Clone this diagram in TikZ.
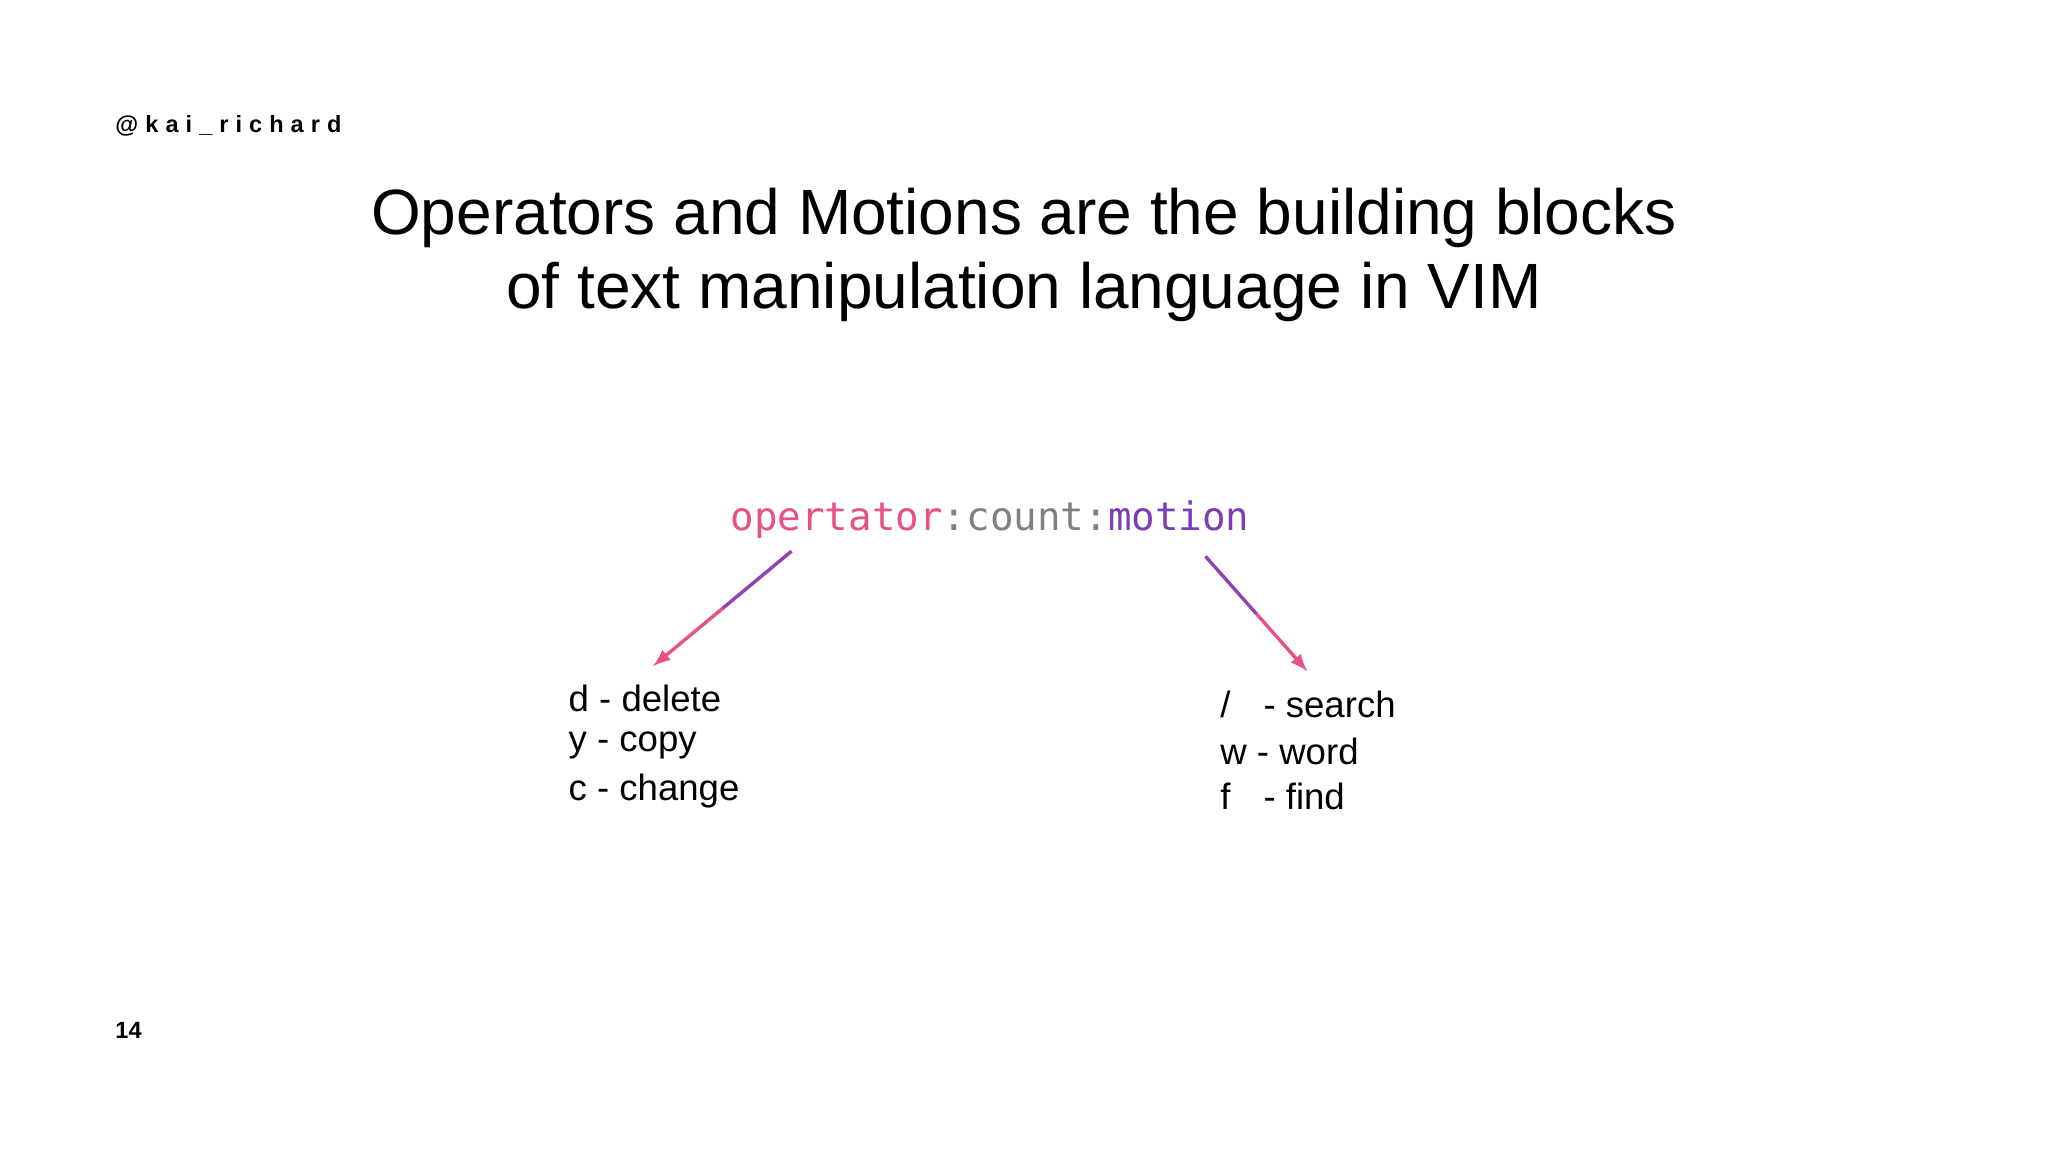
\documentclass[tikz,border=0pt]{standalone}
\usepackage{fontspec}
\setmainfont{Liberation Sans}
\newfontfamily\codefont{DejaVu Sans Mono}
\newfontfamily\spacedfont[LetterSpace=30]{Liberation Sans}
\definecolor{vpink}{HTML}{E8508A}
\definecolor{vgray}{HTML}{808080}
\definecolor{vpurple}{HTML}{7B3FB5}
\begin{document}
\begin{tikzpicture}[x=0.5pt,y=-0.5pt,
  lst/.style={anchor=west,inner sep=0pt,font=\fontsize{14}{16}\selectfont},
  arr/.style={line width=1.3pt,-{latex}}]
\useasboundingbox (0,0) rectangle (1568,882);
\node[anchor=west,inner sep=0pt,font=\spacedfont\bfseries\fontsize{9}{10}\selectfont] (h) at (88,96) {@kai\_richard};
\node[inner sep=0pt,align=center,font=\fontsize{24.5}{28.5}\selectfont] (t) at (784,195) {Operators and Motions are the building blocks\\of text manipulation language in VIM};
\node[inner sep=0pt,font=\codefont\fontsize{15}{17}\selectfont] (c) at (758,398) {\textcolor{vpink}{opertator}\textcolor{vgray}{:count:}\textcolor{vpurple}{motion}};
\coordinate (l0) at (606,422); \coordinate (lm) at (553,466); \coordinate (l1) at (500,510);
\coordinate (r0) at (923,426); \coordinate (rm) at (962,470); \coordinate (r1) at (1001,514);
\draw[line width=1.3pt,vpurple!80!vpink] (l0) -- (lm);
\draw[arr,vpink] (lm) -- (l1);
\draw[line width=1.3pt,vpurple!80!vpink] (r0) -- (rm);
\draw[arr,vpink] (rm) -- (r1);
\node[lst] (d) at (435,535) {d - delete};
\node[lst] (y) at (435,571) {y - copy};
\node[lst] (cc) at (435,606) {c - change};
\node[lst] (s1) at (934,539) {/};
\node[lst] (s2) at (967,539) {- search};
\node[lst] (w) at (934,575) {w - word};
\node[lst] (f1) at (934,610) {f};
\node[lst] (f2) at (967,610) {- find};
\node[anchor=west,inner sep=0pt,font=\bfseries\fontsize{9}{10}\selectfont] (n) at (88,789) {14};
\end{tikzpicture}
\end{document}
